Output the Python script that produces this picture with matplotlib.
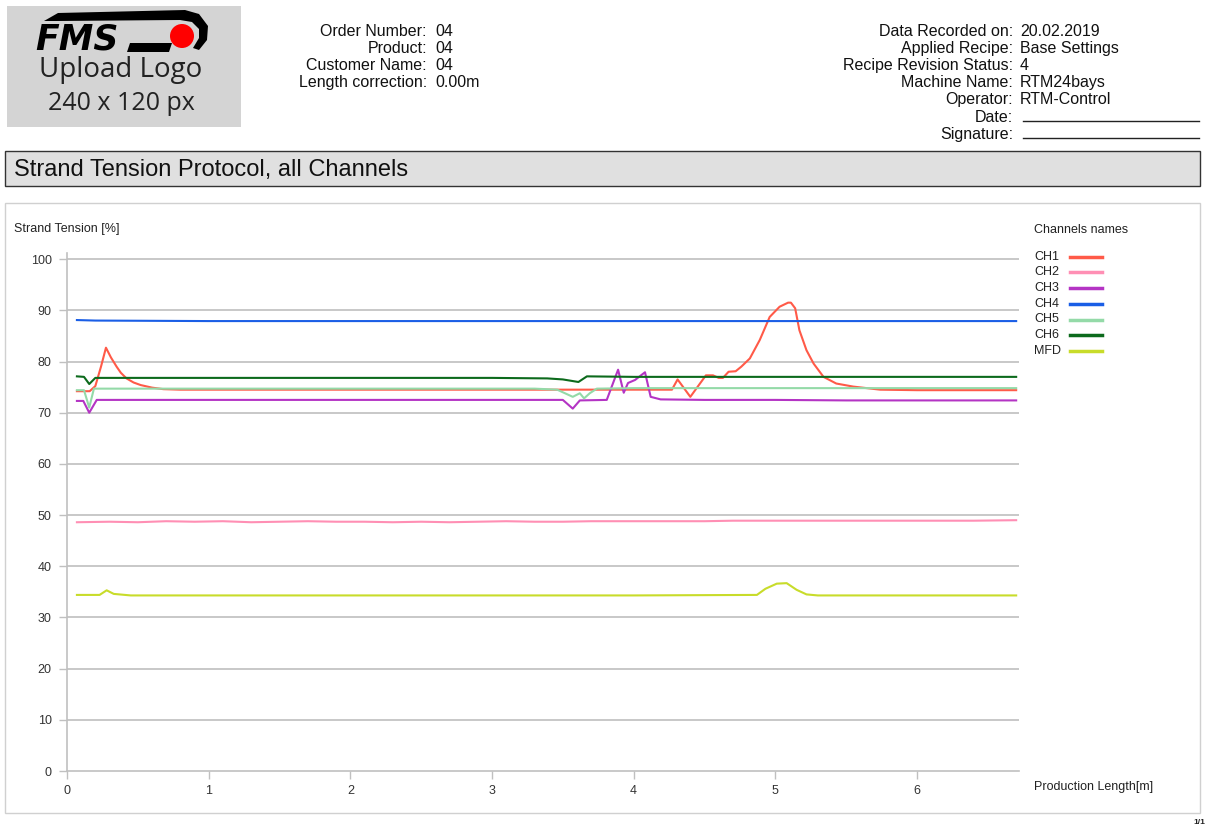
import matplotlib.pyplot as plt
from matplotlib.patches import Rectangle, Polygon, Circle
from matplotlib.lines import Line2D

plt.rcParams['font.family'] = ['Liberation Sans', 'DejaVu Sans']

# donnees
ch1_x = [0.07, 0.16, 0.20, 0.24, 0.275, 0.31, 0.35, 0.38, 0.42, 0.47, 0.52, 0.60, 0.68, 0.80, 1.5, 2.5, 3.5,
         4.27, 4.31, 4.40, 4.51, 4.56, 4.60, 4.63, 4.67, 4.72, 4.76, 4.82, 4.89, 4.96, 5.03, 5.09, 5.11, 5.14,
         5.17, 5.22, 5.27, 5.34, 5.43, 5.55, 5.74, 6.0, 6.7]
ch1_y = [74.2, 74.2, 75.2, 79.0, 82.7, 80.8, 79.0, 77.8, 76.7, 75.9, 75.4, 74.9, 74.6, 74.5, 74.5, 74.5, 74.5,
         74.5, 76.5, 73.1, 77.3, 77.3, 76.8, 76.8, 78.0, 78.1, 79.0, 80.6, 84.2, 88.7, 90.7, 91.5, 91.5, 90.4,
         86.1, 82.2, 79.6, 77.0, 75.7, 75.1, 74.5, 74.4, 74.4]

ch2_x = [0.07, 0.3, 0.5, 0.7, 0.9, 1.1, 1.3, 1.5, 1.7, 1.9, 2.1, 2.3, 2.5, 2.7, 2.9, 3.1,
         3.3, 3.5, 3.7, 3.9, 4.1, 4.3, 4.5, 4.7, 4.9, 5.1, 5.3, 5.5, 5.8, 6.1, 6.4, 6.7]
ch2_y = [48.6, 48.7, 48.6, 48.8, 48.7, 48.8, 48.6, 48.7, 48.8, 48.7, 48.7, 48.6, 48.7, 48.6, 48.7, 48.8,
         48.7, 48.7, 48.8, 48.8, 48.8, 48.8, 48.8, 48.9, 48.9, 48.9, 48.9, 48.9, 48.9, 48.9, 48.9, 49.0]

ch3_x = [0.07, 0.115, 0.157, 0.21, 1.0, 2.0, 3.0, 3.50, 3.57, 3.62, 3.81, 3.89, 3.93, 3.96, 4.01, 4.08,
         4.12, 4.19, 4.5, 5.0, 5.5, 6.0, 6.7]
ch3_y = [72.3, 72.3, 70.0, 72.5, 72.5, 72.5, 72.5, 72.5, 70.8, 72.4, 72.5, 78.4, 73.9, 75.8, 76.4, 77.9,
         73.1, 72.6, 72.5, 72.5, 72.4, 72.4, 72.4]

ch4_x = [0.07, 0.2, 1.0, 2.0, 3.0, 4.0, 5.0, 6.0, 6.7]
ch4_y = [88.1, 88.0, 87.9, 87.9, 87.9, 87.9, 87.9, 87.9, 87.9]

ch5_x = [0.07, 0.12, 0.157, 0.19, 0.5, 1.5, 2.5, 3.3, 3.46, 3.57, 3.62, 3.65, 3.69, 3.74, 4.0, 5.0, 6.0, 6.7]
ch5_y = [74.4, 74.4, 71.0, 74.7, 74.7, 74.7, 74.7, 74.7, 74.5, 73.1, 73.8, 72.8, 73.8, 74.7, 74.8, 74.8, 74.8, 74.8]

ch6_x = [0.07, 0.12, 0.157, 0.20, 1.0, 2.0, 3.0, 3.39, 3.5, 3.61, 3.67, 4.0, 5.0, 6.0, 6.7]
ch6_y = [77.1, 77.0, 75.6, 76.8, 76.8, 76.8, 76.8, 76.7, 76.5, 76.0, 77.1, 77.0, 77.0, 77.0, 77.0]

mfd_x = [0.07, 0.23, 0.28, 0.33, 0.45, 1.0, 2.0, 3.0, 4.0, 4.87, 4.93, 5.01, 5.08, 5.15, 5.22, 5.30, 6.0, 6.7]
mfd_y = [34.4, 34.4, 35.3, 34.6, 34.3, 34.3, 34.3, 34.3, 34.3, 34.4, 35.6, 36.6, 36.7, 35.4, 34.5, 34.3, 34.3, 34.3]

noms = ['CH1', 'CH2', 'CH3', 'CH4', 'CH5', 'CH6', 'MFD']
couleurs = ['#ff5a48', '#ff8fb4', '#b434c4', '#1a5ee6', '#94daa8', '#0c6a1c', '#c8dc2a']
series = [(ch1_x, ch1_y), (ch2_x, ch2_y), (ch3_x, ch3_y), (ch4_x, ch4_y),
          (ch5_x, ch5_y), (ch6_x, ch6_y), (mfd_x, mfd_y)]

infos_gauche = [('Order Number:', '04'), ('Product:', '04'), ('Customer Name:', '04'),
                ('Length correction:', '0.00m')]
infos_droite = [('Data Recorded on:', '20.02.2019'), ('Applied Recipe:', 'Base Settings'),
                ('Recipe Revision Status:', '4'), ('Machine Name:', 'RTM24bays'),
                ('Operator:', 'RTM-Control'), ('Date:', ''), ('Signature:', '')]

W, H = 1208, 827
fig = plt.figure(figsize=(W / 100, H / 100), dpi=100)

# fond en coordonnees pixel pour l'entete
bg = fig.add_axes([0, 0, 1, 1], zorder=0)
bg.set_xlim(0, W)
bg.set_ylim(H, 0)
bg.axis('off')

# logo
bg.add_patch(Rectangle((7, 6), 234, 121, facecolor='#d4d4d4', edgecolor='none'))
bg.add_patch(Polygon([(44, 21), (58, 13), (185, 10), (199, 14), (208, 26), (207, 40), (199, 50),
                      (193, 48), (199, 38), (199, 29), (192, 22), (180, 20), (56, 21)],
                     closed=True, facecolor='black', edgecolor='none', zorder=3))
bg.add_patch(Polygon([(130, 43), (172, 43), (169, 52), (127, 52)], closed=True, facecolor='black'))
bg.add_patch(Circle((182, 36), 12, facecolor='#ff0000', edgecolor='none'))
bg.text(35, 49, 'FMS', fontsize=25, fontweight='bold', fontstyle='italic', family='DejaVu Sans',
        ha='left', va='baseline', color='black')
bg.text(121, 70, 'Upload Logo', fontsize=20, family='Open Sans', ha='center', va='center', color='#222222')
bg.text(121, 103, '240 x 120 px', fontsize=18, family='Open Sans', ha='center', va='center', color='#222222')

# informations d'entete
for i, (lab, val) in enumerate(infos_gauche):
    y = 31 + i * 17.2
    bg.text(427, y, lab, fontsize=11.5, ha='right', va='center', color='#111111')
    bg.text(435, y, val, fontsize=11.5, ha='left', va='center', color='#111111')

for i, (lab, val) in enumerate(infos_droite):
    y = 31 + i * 17.2
    bg.text(1013, y, lab, fontsize=11.5, ha='right', va='center', color='#111111')
    if val:
        bg.text(1020, y, val, fontsize=11.5, ha='left', va='center', color='#111111')
    else:
        bg.plot([1023, 1199], [y + 4, y + 4], color='#222222', lw=1)

# bandeau titre
bg.add_patch(Rectangle((5, 151), 1195, 35, facecolor='#e0e0e0', edgecolor='#333333', lw=1))
bg.text(14, 170, 'Strand Tension Protocol, all Channels', fontsize=17, ha='left', va='center', color='#111111')

# cadre du graphique
bg.add_patch(Rectangle((5, 203), 1195, 610, facecolor='white', edgecolor='#d0d0d0', lw=1))
bg.text(14, 229, 'Strand Tension [%]', fontsize=9, ha='left', va='center', color='#222222')
bg.text(1034, 787, 'Production Length[m]', fontsize=9, ha='left', va='center', color='#222222')
bg.text(1205, 823, '1/1', fontsize=6, fontweight='bold', ha='right', va='center', color='#222222')

# legende faite a la main
bg.text(1034, 230, 'Channels names', fontsize=9, ha='left', va='center', color='#222222')
for i, (nom, c) in enumerate(zip(noms, couleurs)):
    y = 256.5 + i * 15.75
    bg.text(1034, y, nom, fontsize=9, ha='left', va='center', color='#222222')
    bg.add_line(Line2D([1070, 1102], [y, y], color=c, lw=2.5))

# graphique principal
ax = fig.add_axes([67 / W, (H - 771) / H, (1019 - 67) / W, (771 - 253) / H], zorder=1)
ax.set_facecolor('none')

for (x, y), c in zip(series, couleurs):
    ax.plot(x, y, color=c, lw=1.5, solid_joinstyle='round')

ax.set_xlim(0, 6.72)
ax.set_ylim(0, 101.2)
ax.set_xticks(range(0, 7))
ax.set_yticks(range(0, 101, 10))
for v in range(10, 101, 10):
    ax.axhline(v, color='#c8c8c8', lw=1.4, zorder=0)

for s in ['top', 'right']:
    ax.spines[s].set_visible(False)
for s in ['left', 'bottom']:
    ax.spines[s].set_color('#c0c0c0')
    ax.spines[s].set_linewidth(1.2)
ax.tick_params(axis='both', colors='#c0c0c0', labelcolor='#333333', labelsize=9, length=6, width=1)
ax.tick_params(axis='x', pad=4)
ax.tick_params(axis='y', pad=5)

fig.savefig('out.png', dpi=100)
